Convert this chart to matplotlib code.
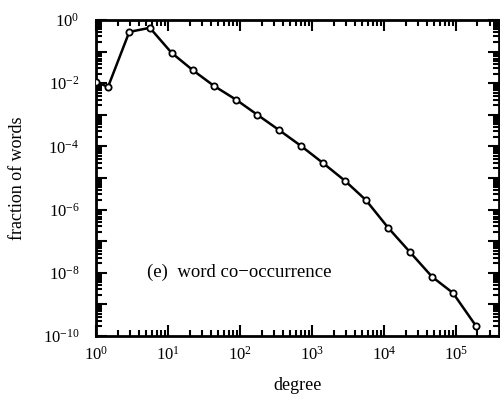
import numpy as np
import matplotlib
matplotlib.use("Agg")
import matplotlib.pyplot as plt
from matplotlib.ticker import LogLocator, FuncFormatter, NullFormatter

degree = [1.0, 1.47, 2.9, 5.6, 11.2, 22.4, 43.7, 89.1, 174, 347, 708, 1410, 2880, 5620, 11500, 22900, 46800, 91200, 190000]
fraction = [10**-1.96, 10**-2.12, 10**-0.38, 10**-0.25, 10**-1.04, 10**-1.6, 10**-2.09, 10**-2.53,
            10**-3.0, 10**-3.48, 10**-3.99, 10**-4.52, 10**-5.09, 10**-5.70, 10**-6.58, 10**-7.34,
            10**-8.13, 10**-8.64, 10**-9.68]

plt.rcParams['font.family'] = ['Liberation Serif', 'DejaVu Serif']

fig = plt.figure(figsize=(5.0, 3.98), dpi=100)
ax = fig.add_axes([0.192, 0.156, 0.806, 0.794])
ax.plot(degree, fraction, color='black', lw=1.8, marker='o', ms=4.5,
        mfc='white', mec='black', mew=1.3, zorder=3)
ax.set_xscale('log')
ax.set_yscale('log')
ax.set_xlim(1, 10**5.6)
ax.set_ylim(1e-10, 1)

ax.xaxis.set_major_locator(LogLocator(base=10, numticks=20))
ax.xaxis.set_minor_locator(LogLocator(base=10, subs=np.arange(2, 10), numticks=20))
ax.xaxis.set_minor_formatter(NullFormatter())
ax.yaxis.set_major_locator(LogLocator(base=10, numticks=20))
ax.yaxis.set_minor_locator(LogLocator(base=10, subs=np.arange(2, 10), numticks=20))
ax.yaxis.set_minor_formatter(NullFormatter())

def yfmt(v, pos):
    e = int(round(np.log10(v)))
    if e % 2 == 0:
        return r'$\mathregular{10^{%d}}$' % e
    return ''

def xfmt(v, pos):
    e = int(round(np.log10(v)))
    return r'$\mathregular{10^{%d}}$' % e

ax.yaxis.set_major_formatter(FuncFormatter(yfmt))
ax.xaxis.set_major_formatter(FuncFormatter(xfmt))

ax.tick_params(which='both', direction='in', top=True, right=True, width=1.5, labelsize=12)
ax.tick_params(which='major', length=8)
ax.tick_params(which='minor', length=4)
ax.tick_params(axis='x', pad=7)
ax.tick_params(axis='y', pad=12)
for s in ax.spines.values():
    s.set_linewidth(2)

ax.set_xlabel('degree', fontsize=13, labelpad=10)
ax.set_ylabel('fraction of words', fontsize=13, labelpad=12)
ax.text(0.127, 0.2, '(e)  word co\u2212occurrence', transform=ax.transAxes, fontsize=13.5,
        va='center', ha='left')

fig.savefig('out.png', dpi=100)
